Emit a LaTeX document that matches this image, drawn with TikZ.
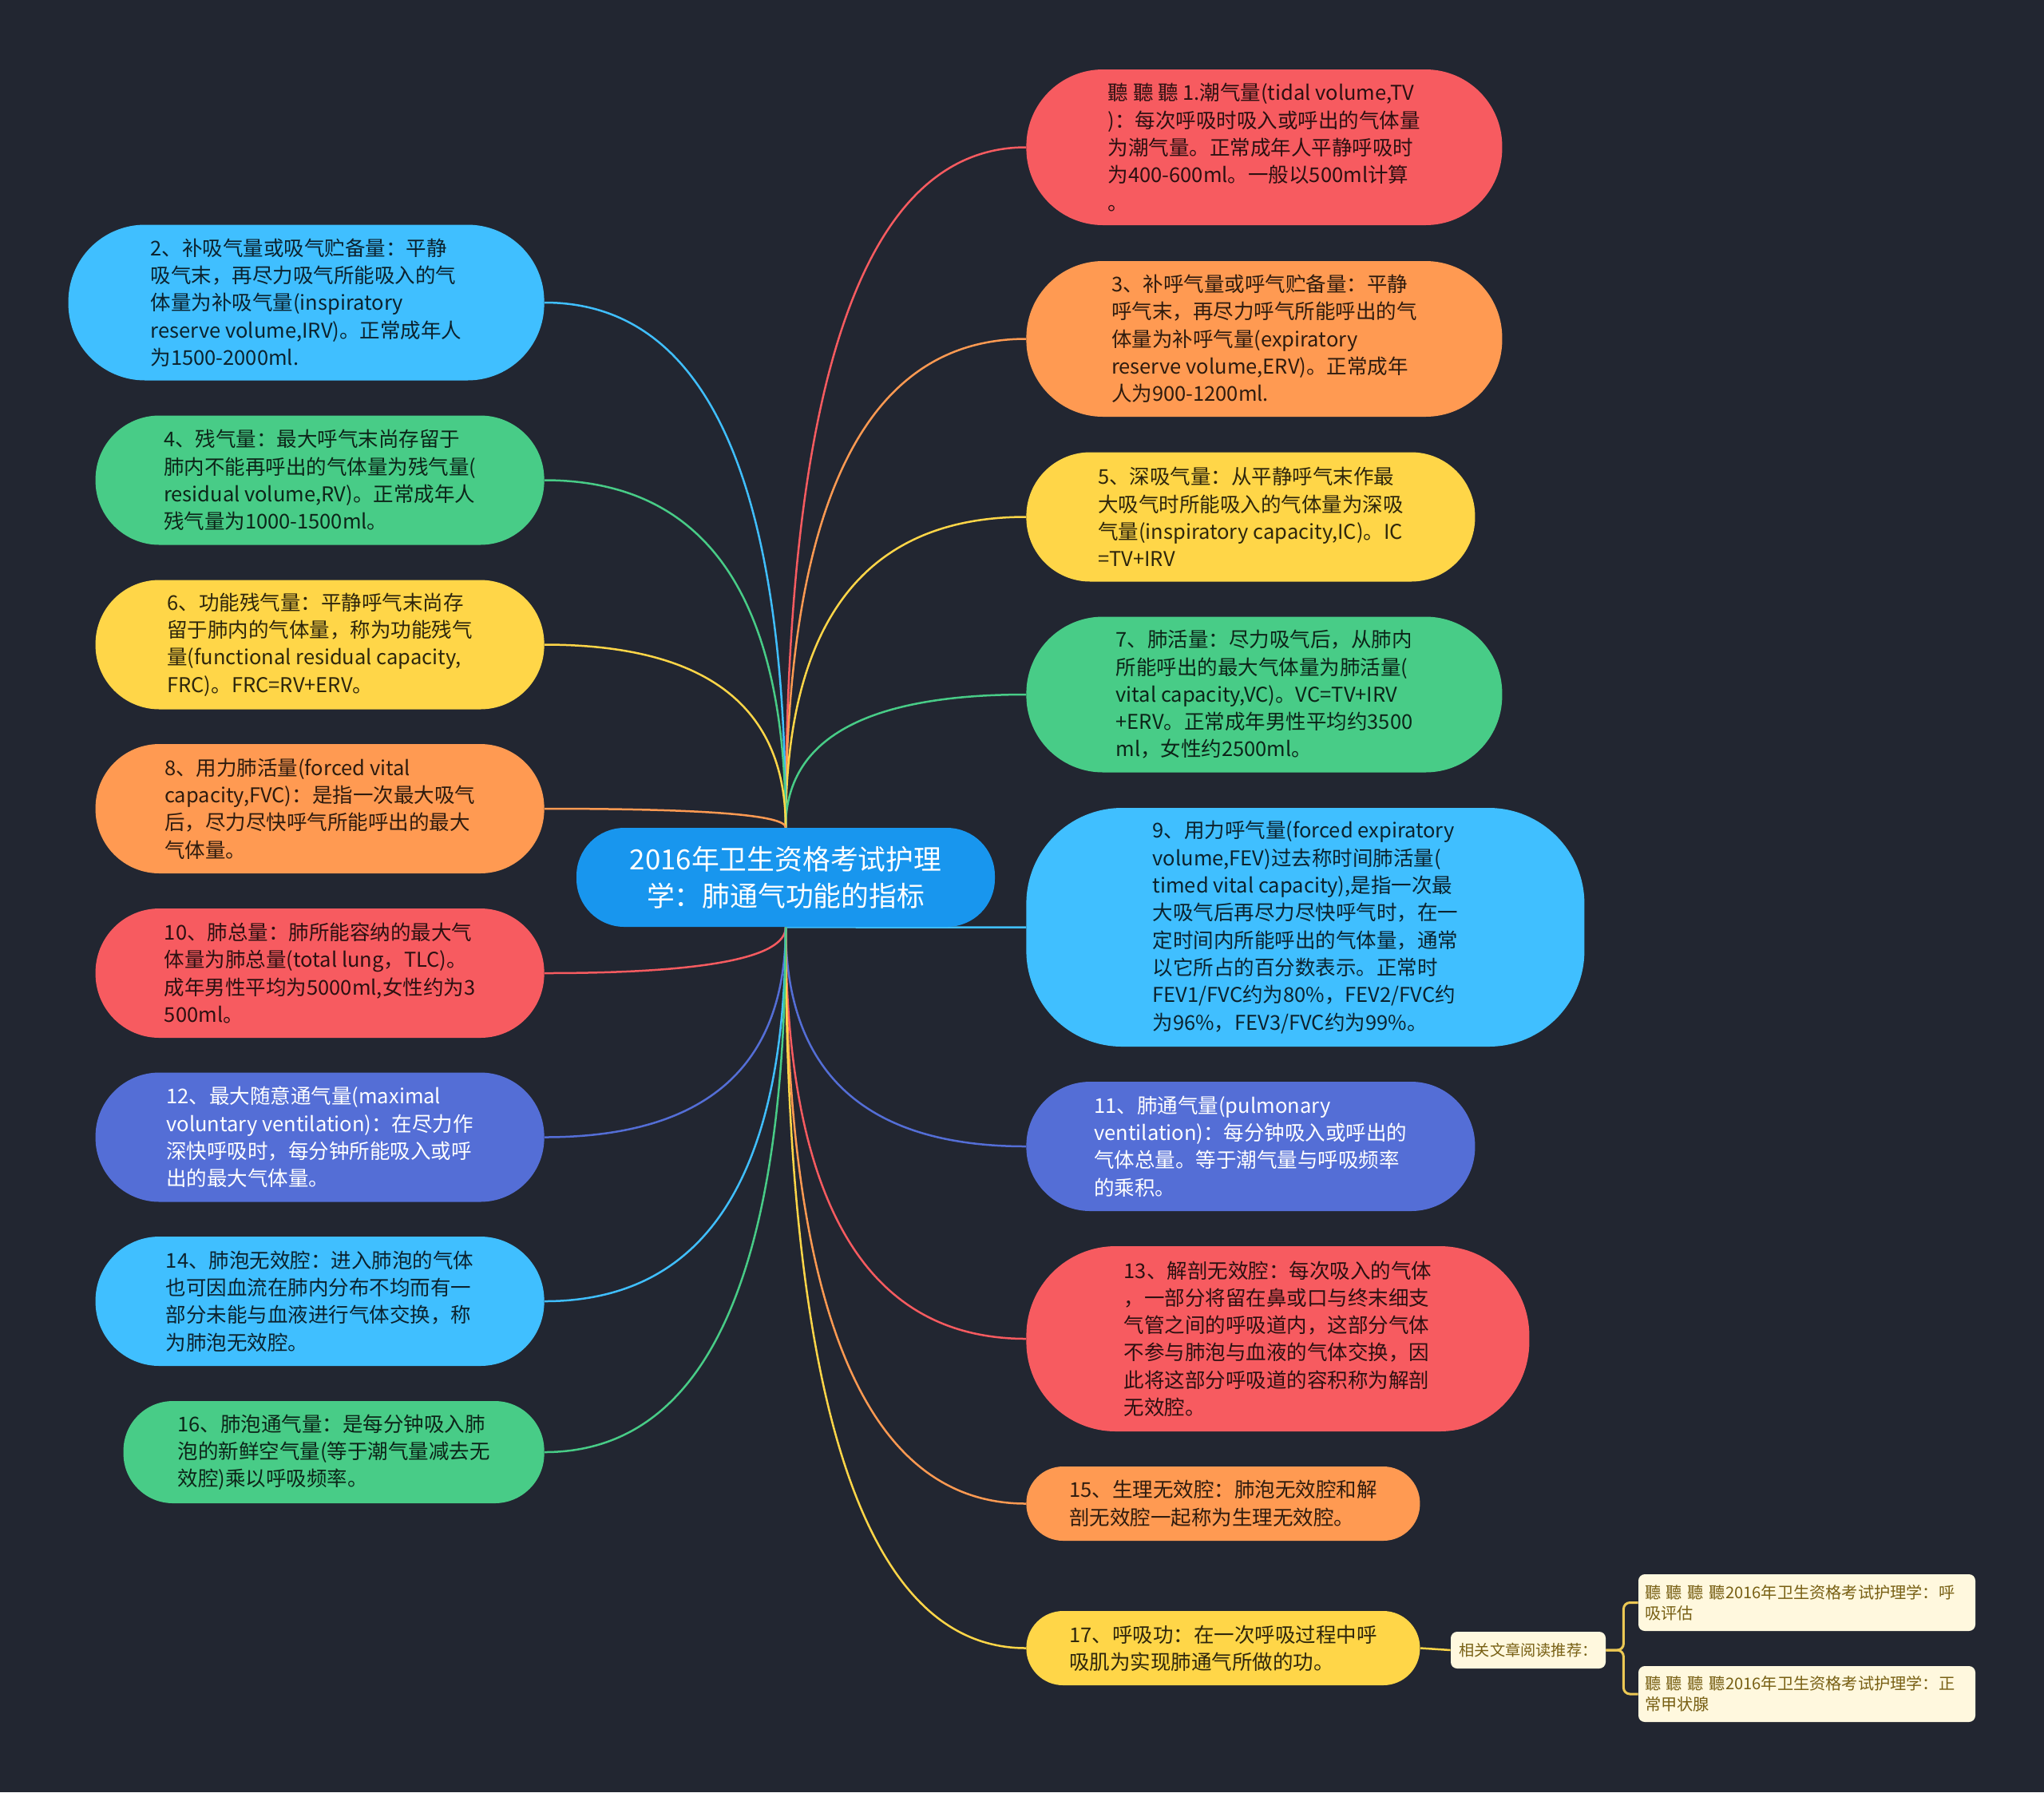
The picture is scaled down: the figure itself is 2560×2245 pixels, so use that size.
\documentclass[tikz,border=0pt]{standalone}
\usepackage{fontspec}
\setmainfont{Noto Sans CJK SC}
\usetikzlibrary{backgrounds,calc}
\definecolor{bgnavy}{RGB}{34,38,49}
\definecolor{hubblue}{RGB}{24,150,238}
\definecolor{redleaf}{RGB}{247,91,96}
\definecolor{orangeleaf}{RGB}{255,154,82}
\definecolor{yellowleaf}{RGB}{255,214,72}
\definecolor{greenleaf}{RGB}{72,204,135}
\definecolor{blueleaf}{RGB}{64,191,255}
\definecolor{purpleleaf}{RGB}{84,110,214}
\definecolor{creambox}{RGB}{255,248,222}
\definecolor{olivetext}{RGB}{120,96,20}
\definecolor{goldline}{RGB}{236,200,84}

\tikzset{
  leaf/.style={inner sep=0pt, align=left, text=black, text opacity=0.82,
    font=\fontsize{12.75pt}{17.15pt}\selectfont},
  leafwide/.style={minimum width=298pt, minimum height=97.5pt, rounded corners=48pt},
  leafmid/.style={minimum width=281pt, minimum height=81pt, rounded corners=40pt},
  leafshort/.style={minimum width=246.5pt, minimum height=46.5pt, rounded corners=23pt},
  hubnode/.style={fill=hubblue, text=white, align=center, inner sep=0pt,
    minimum width=262pt, minimum height=62pt, rounded corners=30pt,
    font=\fontsize{17.4pt}{22.9pt}\selectfont},
  tipbox/.style={fill=creambox, text=olivetext, align=left, inner sep=0pt,
    rounded corners=4pt, font=\fontsize{9.6pt}{13pt}\selectfont},
  recbox/.style={tipbox, inner xsep=4pt, text width=203pt,
    font=\fontsize{10.1pt}{13pt}\selectfont},
  link/.style={line width=1.25pt},
  branch/.style={to path={.. controls ($(\tikztostart)!2/3!(\tikztostart |- \tikztotarget)$)
    and ($(\tikztotarget)!2/3!(\tikztostart |- \tikztotarget)$) .. (\tikztotarget)}}
}

\begin{document}
\begin{tikzpicture}[x=0.5pt,y=-0.5pt]
  % hub
  \node[hubnode] (hub) at (984,1099) {2016年卫生资格考试护理\\学：肺通气功能的指标};

  % right side
  \node[leaf, leafwide, fill=redleaf, anchor=west] (n1) at (1285,184.5)
    {聽 聽 聽 1.潮气量(tidal volume,TV\\)：每次呼吸时吸入或呼出的气体量\\为潮气量。正常成年人平静呼吸时\\为400-600ml。一般以500ml计算\\。};
  \node[leaf, leafwide, fill=orangeleaf, anchor=west] (n3) at (1285,424.5)
    {3、补呼气量或呼气贮备量：平静\\呼气末，再尽力呼气所能呼出的气\\体量为补呼气量(expiratory\\reserve volume,ERV)。正常成年\\人为900-1200ml.};
  \node[leaf, leafmid, fill=yellowleaf, anchor=west] (n5) at (1285,647.5)
    {5、深吸气量：从平静呼气末作最\\大吸气时所能吸入的气体量为深吸\\气量(inspiratory capacity,IC)。IC\\=TV+IRV};
  \node[leaf, leafwide, fill=greenleaf, anchor=west] (n7) at (1285,870)
    {7、肺活量：尽力吸气后，从肺内\\所能呼出的最大气体量为肺活量(\\vital capacity,VC)。VC=TV+IRV\\+ERV。正常成年男性平均约3500\\ml，女性约2500ml。};
  \node[leaf, fill=blueleaf, anchor=west, minimum width=349.5pt, minimum height=149.5pt,
    rounded corners=60pt] (n9) at (1285,1161.5)
    {9、用力呼气量(forced expiratory\\volume,FEV)过去称时间肺活量(\\timed vital capacity),是指一次最\\大吸气后再尽力尽快呼气时，在一\\定时间内所能呼出的气体量，通常\\以它所占的百分数表示。正常时\\FEV1/FVC约为80\%，FEV2/FVC约\\为96\%，FEV3/FVC约为99\%。};
  \node[leaf, leafmid, fill=purpleleaf, text=white, text opacity=1, anchor=west] (n11) at (1285,1436)
    {11、肺通气量(pulmonary\\ventilation)：每分钟吸入或呼出的\\气体总量。等于潮气量与呼吸频率\\的乘积。};
  \node[leaf, fill=redleaf, anchor=west, minimum width=315pt, minimum height=116pt,
    rounded corners=56pt] (n13) at (1285,1677)
    {13、解剖无效腔：每次吸入的气体\\，一部分将留在鼻或口与终末细支\\气管之间的呼吸道内，这部分气体\\不参与肺泡与血液的气体交换，因\\此将这部分呼吸道的容积称为解剖\\无效腔。};
  \node[leaf, leafshort, fill=orangeleaf, anchor=west] (n15) at (1285,1883.5)
    {15、生理无效腔：肺泡无效腔和解\\剖无效腔一起称为生理无效腔。};
  \node[leaf, leafshort, fill=yellowleaf, anchor=west] (n17) at (1285,2064.5)
    {17、呼吸功：在一次呼吸过程中呼\\吸肌为实现肺通气所做的功。};

  % left side
  \node[leaf, leafwide, fill=blueleaf, anchor=east] (n2) at (682,379)
    {2、补吸气量或吸气贮备量：平静\\吸气末，再尽力吸气所能吸入的气\\体量为补吸气量(inspiratory\\reserve volume,IRV)。正常成年人\\为1500-2000ml.};
  \node[leaf, leafmid, fill=greenleaf, anchor=east] (n4) at (682,601.5)
    {4、残气量：最大呼气末尚存留于\\肺内不能再呼出的气体量为残气量(\\residual volume,RV)。正常成年人\\残气量为1000-1500ml。};
  \node[leaf, leafmid, fill=yellowleaf, anchor=east] (n6) at (682,807.5)
    {6、功能残气量：平静呼气末尚存\\留于肺内的气体量，称为功能残气\\量(functional residual capacity,\\FRC)。FRC=RV+ERV。};
  \node[leaf, leafmid, fill=orangeleaf, anchor=east] (n8) at (682,1013)
    {8、用力肺活量(forced vital\\capacity,FVC)：是指一次最大吸气\\后，尽力尽快呼气所能呼出的最大\\气体量。};
  \node[leaf, leafmid, fill=redleaf, anchor=east] (n10) at (682,1219)
    {10、肺总量：肺所能容纳的最大气\\体量为肺总量(total lung，TLC)。\\成年男性平均为5000ml,女性约为3\\500ml。};
  \node[leaf, leafmid, fill=purpleleaf, text=white, text opacity=1, anchor=east] (n12) at (682,1424.5)
    {12、最大随意通气量(maximal\\voluntary ventilation)：在尽力作\\深快呼吸时，每分钟所能吸入或呼\\出的最大气体量。};
  \node[leaf, leafmid, fill=blueleaf, anchor=east] (n14) at (682,1630)
    {14、肺泡无效腔：进入肺泡的气体\\也可因血流在肺内分布不均而有一\\部分未能与血液进行气体交换，称\\为肺泡无效腔。};
  \node[leaf, fill=greenleaf, anchor=east, minimum width=263.5pt, minimum height=64pt,
    rounded corners=31pt] (n16) at (682,1819)
    {16、肺泡通气量：是每分钟吸入肺\\泡的新鲜空气量(等于潮气量减去无\\效腔)乘以呼吸频率。};

  % related reading
  \node[tipbox, minimum width=97pt, minimum height=23pt] (tag) at (1914,2067) {相关文章阅读推荐：};
  \node[recbox, minimum height=35.5pt] (rec1) at (2263,2007.5)
    {聽 聽 聽 聽2016年卫生资格考试护理学：呼\\吸评估};
  \node[recbox, minimum height=35pt] (rec2) at (2263,2122)
    {聽 聽 聽 聽2016年卫生资格考试护理学：正\\常甲状腺};

  \begin{scope}[on background layer]
    \fill[bgnavy] (0,0) rectangle (2560,2245);
    % upper branches
    \draw[link, branch, redleaf] (hub.north) to (n1.west);
    \draw[link, branch, orangeleaf] (hub.north) to (n3.west);
    \draw[link, branch, yellowleaf] (hub.north) to (n5.west);
    \draw[link, branch, greenleaf] (hub.north) to (n7.west);
    \draw[link, branch, blueleaf] (hub.north) to (n2.east);
    \draw[link, branch, greenleaf] (hub.north) to (n4.east);
    \draw[link, branch, yellowleaf] (hub.north) to (n6.east);
    \draw[link, branch, orangeleaf] (hub.north) to (n8.east);
    % lower branches
    \draw[link, branch, blueleaf] (hub.south) to (n9.west);
    \draw[link, branch, purpleleaf] (hub.south) to (n11.west);
    \draw[link, branch, redleaf] (hub.south) to (n13.west);
    \draw[link, branch, orangeleaf] (hub.south) to (n15.west);
    \draw[link, branch, yellowleaf] (hub.south) to (n17.west);
    \draw[link, branch, redleaf] (hub.south) to (n10.east);
    \draw[link, branch, purpleleaf] (hub.south) to (n12.east);
    \draw[link, branch, blueleaf] (hub.south) to (n14.east);
    \draw[link, branch, greenleaf] (hub.south) to (n16.east);
    % reading bracket
    \draw[link, yellowleaf] (n17.east) -- (tag.west);
    \draw[line width=1.5pt, goldline, rounded corners=4pt] (tag.east) -- ++(22,0) |- (rec1.west);
    \draw[line width=1.5pt, goldline, rounded corners=4pt] (tag.east) -- ++(22,0) |- (rec2.west);
  \end{scope}
\end{tikzpicture}
\end{document}
